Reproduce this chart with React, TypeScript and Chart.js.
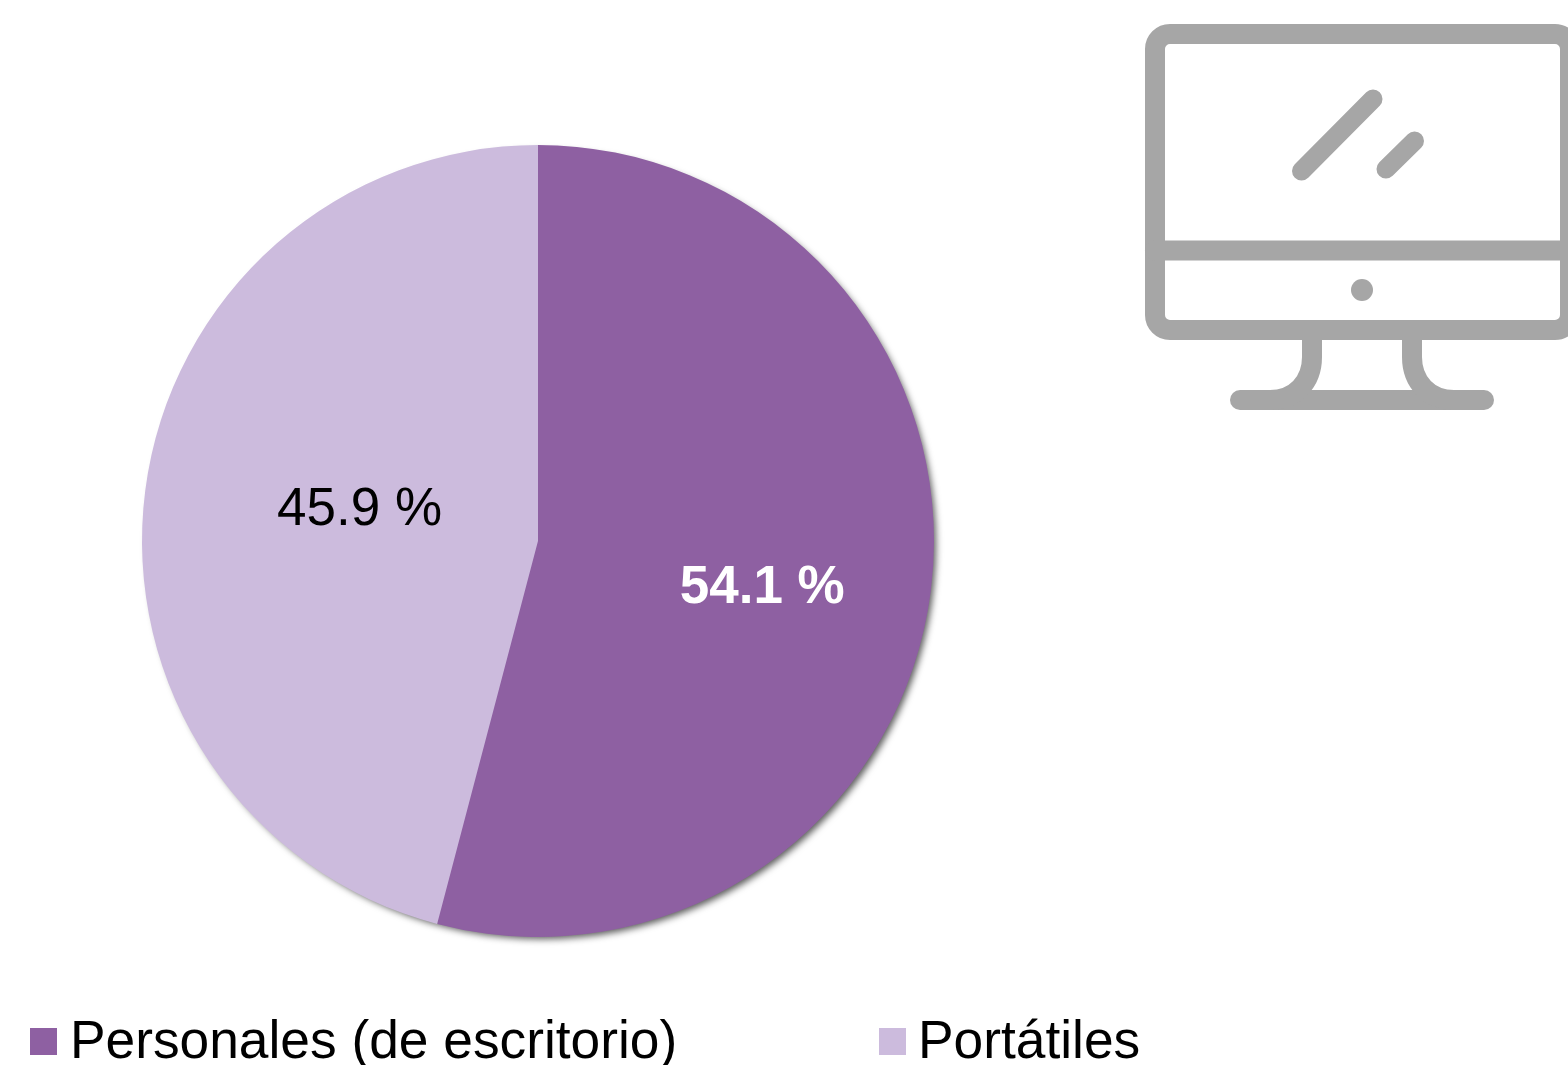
import React, { useEffect, useRef } from "react";
import { Chart, registerables } from "chart.js";

Chart.register(...registerables);

const categories = ["Personales (de escritorio)", "Portátiles"];
const seriesValues = [54.1, 45.9];
const valueLabels = ["54.1 %", "45.9 %"];
const sliceColors = ["#8E60A2", "#CCBBDD"];

const FONT = '"Liberation Sans", Arial, sans-serif';

const labelLayout = [
  { radius: 0.571, dy: 18, color: "#FFFFFF", weight: "bold" },
  { radius: 0.4545, dy: -7, color: "#000000", weight: "normal" },
];
const legendLayout = [
  { boxX: 30, textX: 70 },
  { boxX: 879, textX: 918 },
];

const pieDecor = {
  id: "pieDecor",
  beforeDatasetsDraw(chart: any) {
    const arc = chart.getDatasetMeta(0).data[0];
    const { ctx } = chart;
    ctx.save();
    ctx.shadowColor = "rgba(0,0,0,0.65)";
    ctx.shadowBlur = 7;
    ctx.shadowOffsetX = 4;
    ctx.shadowOffsetY = 4;
    ctx.fillStyle = sliceColors[0];
    ctx.beginPath();
    ctx.arc(arc.x, arc.y, arc.outerRadius - 2, 0, Math.PI * 2);
    ctx.fill();
    ctx.restore();
  },
  afterDatasetsDraw(chart: any) {
    const { ctx } = chart;
    const arcs = chart.getDatasetMeta(0).data;
    ctx.save();
    arcs.forEach((arc: any, i: number) => {
      const l = labelLayout[i];
      const mid = (arc.startAngle + arc.endAngle) / 2;
      const r = arc.outerRadius * l.radius;
      ctx.font = `${l.weight} 53px ${FONT}`;
      ctx.fillStyle = l.color;
      ctx.textAlign = "center";
      ctx.textBaseline = "middle";
      ctx.fillText(
        valueLabels[i],
        arc.x + Math.cos(mid) * r,
        arc.y + Math.sin(mid) * r + l.dy
      );
    });
    chart.data.labels.forEach((label: string, i: number) => {
      const p = legendLayout[i];
      ctx.fillStyle = sliceColors[i];
      ctx.fillRect(p.boxX, 1028, 27, 27);
      ctx.font = `53.3px ${FONT}`;
      ctx.fillStyle = "#000000";
      ctx.textAlign = "left";
      ctx.textBaseline = "alphabetic";
      ctx.fillText(label, p.textX, 1058);
    });
    ctx.restore();
  },
};

function MonitorIcon() {
  const stroke = {
    fill: "none",
    stroke: "#A6A6A6",
    strokeWidth: 20,
    strokeLinecap: "round" as const,
  };
  return (
    <svg
      width={1568}
      height={1065}
      style={{ position: "absolute", left: 0, top: 0, pointerEvents: "none" }}
    >
      <rect x={1155} y={34} width={415} height={296} rx={15} {...stroke} />
      <path d="M1155 250.5H1570" {...stroke} />
      <circle cx={1362} cy={290} r={11} fill="#A6A6A6" />
      <path d="M1301.5 171L1373 99" {...stroke} strokeWidth={19} />
      <path d="M1386 169L1414.5 141" {...stroke} strokeWidth={19} />
      <path d="M1240 400H1484" {...stroke} />
      <path d="M1312 339V357C1312 382 1295 400 1270 400" {...stroke} strokeLinecap="butt" />
      <path d="M1412 339V357C1412 382 1429 400 1454 400" {...stroke} strokeLinecap="butt" />
    </svg>
  );
}

export default function App() {
  const ref = useRef<HTMLCanvasElement>(null);
  useEffect(() => {
    document.body.style.margin = "0";
    document.body.style.background = "#FFFFFF";
    const chart = new Chart(ref.current!, {
      type: "pie",
      data: {
        labels: categories,
        datasets: [
          {
            data: seriesValues,
            backgroundColor: sliceColors,
            borderWidth: 0,
          },
        ],
      },
      options: {
        animation: false,
        responsive: false,
        layout: { padding: { left: 142, right: 634, top: 145, bottom: 128 } },
        plugins: { legend: { display: false }, tooltip: { enabled: false } },
      },
      plugins: [pieDecor],
    });
    return () => chart.destroy();
  }, []);
  return (
    <div style={{ position: "relative", width: 1568, height: 1065, overflow: "hidden" }}>
      <canvas ref={ref} width={1568} height={1065} style={{ display: "block" }} />
      <MonitorIcon />
    </div>
  );
}
